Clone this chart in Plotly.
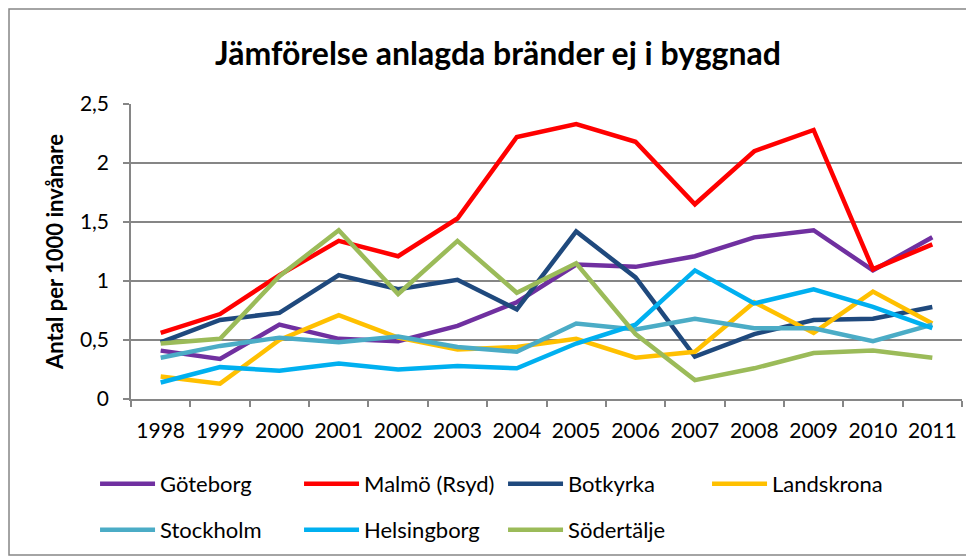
import plotly.graph_objects as go

YEARS = [str(y) for y in range(1998, 2012)]

GOTEBORG = [0.41, 0.34, 0.63, 0.51, 0.49, 0.62, 0.82, 1.14, 1.12, 1.21, 1.37, 1.43, 1.09, 1.37]
MALMO = [0.56, 0.72, 1.05, 1.34, 1.21, 1.53, 2.22, 2.33, 2.18, 1.65, 2.10, 2.28, 1.10, 1.31]
BOTKYRKA = [0.48, 0.67, 0.73, 1.05, 0.93, 1.01, 0.76, 1.42, 1.03, 0.36, 0.55, 0.67, 0.68, 0.78]
LANDSKRONA = [0.19, 0.13, 0.50, 0.71, 0.52, 0.42, 0.44, 0.51, 0.35, 0.40, 0.82, 0.56, 0.91, 0.64]
STOCKHOLM = [0.35, 0.45, 0.52, 0.48, 0.53, 0.44, 0.40, 0.64, 0.59, 0.68, 0.60, 0.60, 0.49, 0.63]
HELSINGBORG = [0.14, 0.27, 0.24, 0.30, 0.25, 0.28, 0.26, 0.47, 0.63, 1.09, 0.81, 0.93, 0.78, 0.60]
SODERTALJE = [0.47, 0.51, 1.04, 1.43, 0.89, 1.34, 0.90, 1.15, 0.55, 0.16, 0.26, 0.39, 0.41, 0.35]

SERIES = [
    ("Göteborg", GOTEBORG, "#7030A0", "legend"),
    ("Malmö (Rsyd)", MALMO, "#FF0000", "legend"),
    ("Botkyrka", BOTKYRKA, "#1F497D", "legend"),
    ("Landskrona", LANDSKRONA, "#FFC000", "legend"),
    ("Stockholm", STOCKHOLM, "#4BACC6", "legend2"),
    ("Helsingborg", HELSINGBORG, "#00B0F0", "legend2"),
    ("Södertälje", SODERTALJE, "#9BBB59", "legend2"),
]

FONT = "Lato"
AXIS_GRAY = "#868686"

fig = go.Figure()
for name, vals, color, leg in SERIES:
    fig.add_trace(
        go.Scatter(
            x=YEARS,
            y=vals,
            mode="lines",
            name=name,
            legend=leg,
            line=dict(color=color, width=4.5),
        )
    )

# two legend rows in container coords (page body adds an 8px offset)
legend_common = dict(
    orientation="h",
    xref="container",
    yref="container",
    xanchor="left",
    yanchor="middle",
    x=0.0901,
    entrywidth=134,
    entrywidthmode="pixels",
    itemwidth=55,
    font=dict(family=FONT, size=22, color="#000000"),
    bgcolor="rgba(0,0,0,0)",
    traceorder="normal",
)

fig.update_layout(
    width=966,
    height=549,
    margin=dict(l=123, r=12, t=96, b=158),
    paper_bgcolor="white",
    plot_bgcolor="white",
    separators=", ",
    font=dict(family=FONT, size=21, color="#000000"),
    showlegend=True,
    title=dict(
        text="<b>Jämförelse anlagda bränder ej i byggnad</b>",
        xref="container",
        yref="container",
        x=0.5072,
        xanchor="center",
        y=0.917,
        yanchor="middle",
        font=dict(family=FONT, size=32, color="#000000"),
    ),
    xaxis=dict(
        type="category",
        automargin=False,
        showgrid=False,
        showline=True,
        linecolor=AXIS_GRAY,
        linewidth=1.5,
        ticks="outside",
        tickson="boundaries",
        ticklen=6,
        tickwidth=1.5,
        tickcolor=AXIS_GRAY,
        ticklabelstandoff=12,
        tickfont=dict(family=FONT, size=21),
        range=[-0.5, 13.5],
    ),
    yaxis=dict(
        range=[0, 2.5],
        dtick=0.5,
        tickformat=".1~f",
        automargin=False,
        showgrid=True,
        gridcolor=AXIS_GRAY,
        gridwidth=1.5,
        showline=True,
        linecolor=AXIS_GRAY,
        linewidth=1.5,
        ticks="outside",
        ticklen=6,
        tickwidth=1.5,
        tickcolor=AXIS_GRAY,
        ticklabelstandoff=10,
        zeroline=False,
        tickfont=dict(family=FONT, size=21),
        title=dict(
            text="<b>Antal per 1000 invånare</b>",
            font=dict(family=FONT, size=22),
            standoff=10,
        ),
    ),
    legend=dict(legend_common, y=0.133),
    legend2=dict(legend_common, y=0.0492),
    shapes=[
        dict(
            type="rect",
            xref="paper",
            yref="paper",
            x0=-0.1468,
            x1=1.0072,
            y0=-0.5288,
            y1=1.322,
            line=dict(color=AXIS_GRAY, width=1.5),
            layer="above",
        )
    ],
)

fig.write_html("out.html")
